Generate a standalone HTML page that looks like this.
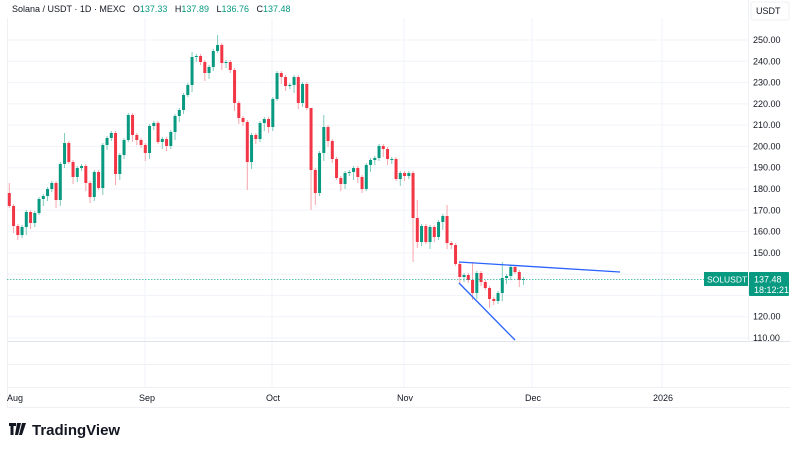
<!DOCTYPE html>
<html><head><meta charset="utf-8"><style>
html,body{margin:0;padding:0;background:#fff;width:800px;height:450px;overflow:hidden}
svg{display:block;font-family:"Liberation Sans",sans-serif}
</style></head><body>
<svg id="s" width="800" height="450" viewBox="0 0 800 450">
<rect width="800" height="450" fill="#fff"/>
<g id="grid" stroke="#f0f3fa" stroke-width="1"></g>
<line x1="7" y1="341.5" x2="790" y2="341.5" stroke="#e0e3eb"/>
<line x1="7" y1="364.5" x2="790" y2="364.5" stroke="#eef0f4"/>
<line x1="7" y1="387.5" x2="790" y2="387.5" stroke="#eef0f4"/>
<line x1="7" y1="407.5" x2="790" y2="407.5" stroke="#eef0f4"/>
<line x1="7.5" y1="18" x2="7.5" y2="407" stroke="#eef0f4"/>
<line x1="748.5" y1="0" x2="748.5" y2="342" stroke="#eef0f4"/>
<g id="c"></g>
<line x1="7" y1="279.5" x2="748" y2="279.5" stroke="#22ab94" stroke-width="0.8" stroke-dasharray="1.5,1.5"/>
<line x1="459" y1="262" x2="620" y2="272" stroke="#2962ff" stroke-width="1.3"/>
<line x1="459" y1="283" x2="515" y2="340" stroke="#2962ff" stroke-width="1.3"/>
<g font-size="9" fill="#131722" id="ax"></g>
<rect x="704" y="272" width="44" height="14" fill="#089981"/>
<text x="707" y="282.5" font-size="8.5" fill="#fff">SOLUSDT</text>
<rect x="749" y="272" width="40" height="24" rx="1" fill="#089981"/>
<text x="754" y="282.5" font-size="9" fill="#fff">137.48</text>
<text x="754" y="293" font-size="9" fill="#fff">18:12:21</text>
<rect x="751" y="2" width="38" height="18" rx="2" fill="#fff" stroke="#eef0f4"/>
<text x="756" y="14" font-size="9" fill="#131722">USDT</text>
<text x="12" y="12" font-size="9" fill="#131722" xml:space="preserve">Solana / USDT · 1D · MEXC   O<tspan fill="#089981">137.33</tspan>   H<tspan fill="#089981">137.89</tspan>   L<tspan fill="#089981">136.76</tspan>   C<tspan fill="#089981">137.48</tspan></text>
<g font-size="9" fill="#131722">
<text x="7" y="401">Aug</text><text x="139" y="401">Sep</text><text x="266" y="401">Oct</text><text x="397" y="401">Nov</text><text x="525" y="401">Dec</text><text x="653" y="401">2026</text>
</g>
<g fill="#131722">
<path d="M9 423h7v3h-2.5v9h-3v-9H9z"/><path d="M17 423h4l-3 12h-3z" /><path d="M22 423h4l-4 12h-3z" />
</g>
<text x="32" y="435" font-size="15" font-weight="bold" fill="#131722">TradingView</text>
</svg>
<script>
(function(){
var closes=[206,226,235,227,212,223,213,199,196,189,183,200,164,143,162,177,168,166,183,197,172,188,145,138,133,174,155,140,115,135,140,145,153,126,123,142,139,146,132,116,110,95,85,57,56,62,73,67,51,45,63,62,70,103,118,122,162,135,139,123,119,127,99,73,77,86,85,77,103,84,108,170,193,153,127,141,159,178,184,173,172,168,177,189,165,160,158,146,149,159,159,179,173,176,173,218,242,226,242,227,237,222,216,243,245,264,277,275,280,293,273,282,288,299,301,293,278,276,267,272,280,279];
var s='',prev=193;
var bigHigh={1:183,14:133,44:52,50:35,72:110,75:115,97:200,104:205,110:262,117:262};
var bigLow={3:240,26:185,57:190,72:210,73:205,96:262,110:300,114:308,115:305};
for(var i=0;i<closes.length;i++){
 var o=prev,c=closes[i],x=9.3+i*4.25,bt=Math.min(o,c),bb=Math.max(o,c);
 if(bb-bt<1){bb=bt+1;}
 var up=c<=o, col=up?'#089981':'#f23645', wc=up?'#7fcbbd':'#f7a5ac';
 var hh=bt-(2+((i*7)%7)), ll=bb+(2+((i*5)%7));
 if(bigHigh[i+1])hh=bigHigh[i+1]; if(bigLow[i+1])ll=bigLow[i+1];
 s+='<line x1="'+x+'" y1="'+hh+'" x2="'+x+'" y2="'+ll+'" stroke="'+wc+'" stroke-width="1"/>';
 s+='<rect x="'+(x-1.5)+'" y="'+bt+'" width="3" height="'+(bb-bt)+'" fill="'+col+'"/>';
 prev=c;
}
document.getElementById('c').innerHTML=s;
var g='',a='';
for(var p=250;p>=110;p-=10){var y=40+(250-p)*2.1286;
 g+='<line x1="7" y1="'+y+'" x2="748" y2="'+y+'"/>';
 if(p!=140&&p!=130)a+='<text x="753" y="'+(y+3)+'">'+p+'.00</text>';}
[145,272,404,532,662].forEach(function(x){g+='<line x1="'+x+'" y1="18" x2="'+x+'" y2="387"/>';});
document.getElementById('grid').innerHTML=g;
document.getElementById('ax').innerHTML=a;
})();
</script>
</body></html>
